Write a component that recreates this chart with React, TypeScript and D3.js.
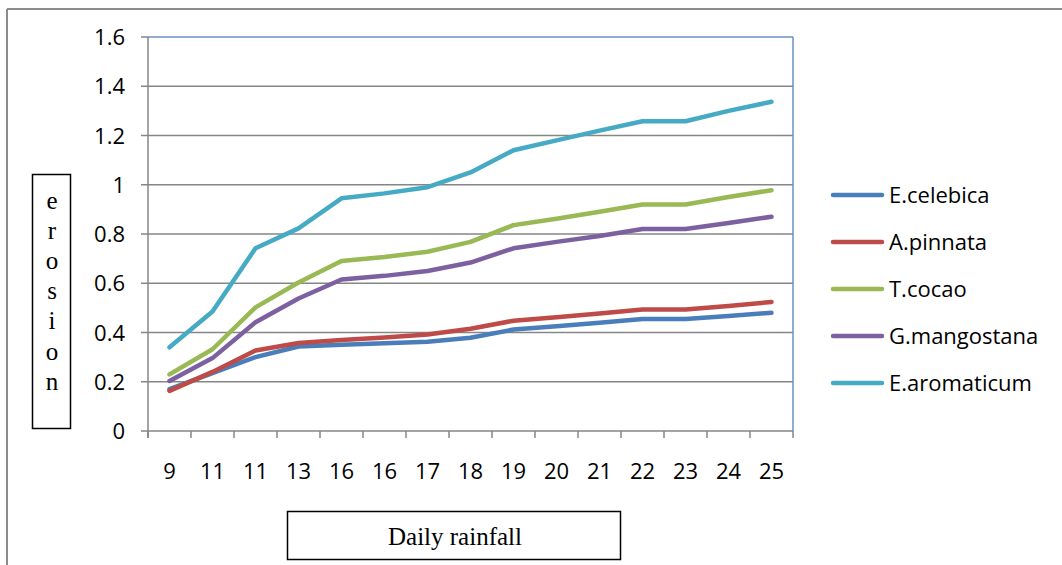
import React from "react";
import * as d3 from "d3";

const categories = ["9", "11", "11", "13", "16", "16", "17", "18", "19", "20", "21", "22", "23", "24", "25"];
const eCelebica = [0.17, 0.235, 0.3, 0.343, 0.35, 0.356, 0.362, 0.379, 0.412, 0.425, 0.44, 0.455, 0.455, 0.467, 0.48];
const aPinnata = [0.163, 0.24, 0.327, 0.357, 0.37, 0.38, 0.392, 0.415, 0.448, 0.462, 0.477, 0.493, 0.493, 0.508, 0.524];
const tCocao = [0.23, 0.332, 0.502, 0.603, 0.69, 0.707, 0.728, 0.768, 0.836, 0.862, 0.89, 0.92, 0.92, 0.95, 0.978];
const gMangostana = [0.203, 0.296, 0.442, 0.538, 0.615, 0.63, 0.65, 0.684, 0.742, 0.768, 0.792, 0.82, 0.82, 0.845, 0.87];
const eAromaticum = [0.34, 0.485, 0.742, 0.823, 0.945, 0.965, 0.99, 1.05, 1.14, 1.18, 1.22, 1.258, 1.258, 1.3, 1.337];
const yTicks = [0, 0.2, 0.4, 0.6, 0.8, 1, 1.2, 1.4, 1.6];

const seriesNames = ["E.celebica", "A.pinnata", "T.cocao", "G.mangostana", "E.aromaticum"];
const seriesValues = [eCelebica, aPinnata, tCocao, gMangostana, eAromaticum];
const seriesColors = ["#4a7ebb", "#be4b48", "#98b954", "#7d60a0", "#46aac5"];

const yTitleLetters = ["e", "r", "o", "s", "i", "o", "n"];

export default function App() {
  const left = 148, right = 793, top = 37, bottom = 431;
  const x = d3.scaleBand<number>().domain(d3.range(categories.length)).range([left, right]);
  const y = d3.scaleLinear().domain([0, 1.6]).range([bottom, top]);
  const line = d3
    .line<number>()
    .x((_, i) => (x(i) as number) + x.bandwidth() / 2)
    .y((d) => y(d));
  const font = "'Open Sans', sans-serif";
  const serif = "'Liberation Serif', 'Times New Roman', serif";
  const grid = "#868686";
  const blueBorder = "#6a90c4";
  const xTickPos = d3.range(categories.length + 1).map((i) => left + i * x.step());

  return (
    <svg width={1062} height={565} style={{ position: "absolute", left: 0, top: 0 }}>
      <rect width={1062} height={565} fill="#fff" />
      {/* outer frame */}
      <line x1={7} y1={9} x2={1062} y2={9} stroke="#8c8c8c" strokeWidth={2} />
      <line x1={7} y1={9} x2={7} y2={565} stroke="#8c8c8c" strokeWidth={2} />

      {/* gridlines */}
      {yTicks.map((t) =>
        t > 0 && t < 1.6 ? (
          <line key={"g" + t} x1={left} x2={right} y1={y(t)} y2={y(t)} stroke={grid} strokeWidth={1.5} />
        ) : null
      )}
      {/* plot border top & right */}
      <line x1={left} x2={right} y1={y(1.6)} y2={y(1.6)} stroke={blueBorder} strokeWidth={1.5} />
      <line x1={right} x2={right} y1={y(1.6)} y2={bottom} stroke={blueBorder} strokeWidth={1.5} />

      {/* y axis */}
      <line x1={left} x2={left} y1={top} y2={bottom + 7} stroke={grid} strokeWidth={1.5} />
      {yTicks.map((t) => (
        <g key={"yt" + t}>
          <line x1={left - 7} x2={left} y1={y(t)} y2={y(t)} stroke={grid} strokeWidth={1.5} />
          <text
            x={left - 23}
            y={y(t) + 8}
            textAnchor="end"
            fontFamily={font}
            fontSize={22}
            fill="#000"
          >
            {String(t)}
          </text>
        </g>
      ))}

      {/* x axis */}
      <line x1={left} x2={right} y1={bottom} y2={bottom} stroke={grid} strokeWidth={1.5} />
      {xTickPos.map((p, i) => (
        <line key={"xt" + i} x1={p} x2={p} y1={bottom} y2={bottom + 7} stroke={grid} strokeWidth={1.5} />
      ))}
      {categories.map((c, i) => (
        <text
          key={"xl" + i}
          x={(x(i) as number) + x.bandwidth() / 2}
          y={479}
          textAnchor="middle"
          fontFamily={font}
          fontSize={22}
          fill="#000"
        >
          {c}
        </text>
      ))}

      {/* series */}
      {seriesValues.map((vals, si) => (
        <path
          key={"s" + si}
          d={line(vals) || ""}
          fill="none"
          stroke={seriesColors[si]}
          strokeWidth={4.5}
          strokeLinejoin="round"
          strokeLinecap="round"
        />
      ))}

      {/* legend */}
      {seriesNames.map((n, i) => {
        const ly = 195 + i * 47;
        return (
          <g key={"lg" + i}>
            <line x1={833} x2={882} y1={ly} y2={ly} stroke={seriesColors[i]} strokeWidth={4.5} strokeLinecap="round" />
            <text x={889} y={ly + 8} fontFamily={font} fontSize={22} fill="#000">
              {n}
            </text>
          </g>
        );
      })}

      {/* y title box */}
      <rect x={32.5} y={174.5} width={38} height={254} fill="#fff" stroke="#000" strokeWidth={1.5} />
      {yTitleLetters.map((l, i) => (
        <text
          key={"yl" + i}
          x={52}
          y={209 + i * 30.1}
          textAnchor="middle"
          fontFamily={serif}
          fontSize={25}
          fill="#000"
        >
          {l}
        </text>
      ))}

      {/* x title box */}
      <rect x={287.5} y={511.5} width={333} height={48} fill="#fff" stroke="#000" strokeWidth={1.5} />
      <text x={455} y={545} textAnchor="middle" fontFamily={serif} fontSize={25} fill="#000">
        Daily rainfall
      </text>
    </svg>
  );
}
